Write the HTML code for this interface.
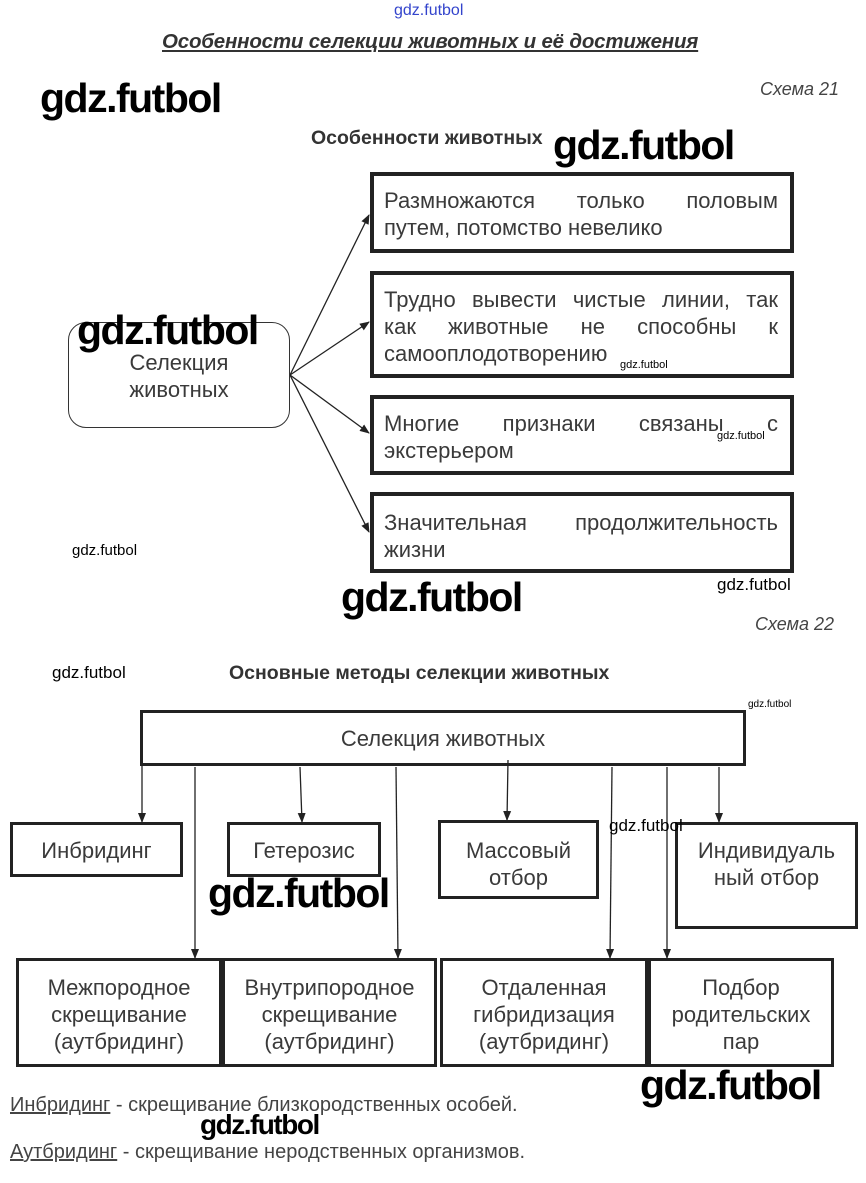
<!DOCTYPE html>
<html><head><meta charset="utf-8">
<style>
html,body{margin:0;padding:0;background:#fff;}
body{width:866px;height:1183px;position:relative;overflow:hidden;font-family:"Liberation Sans",sans-serif;color:#333;}
.a{position:absolute;}
.box{position:absolute;border:3px solid #222;box-sizing:border-box;}
.t{font-size:22px;line-height:27px;color:#3a3a3a;}
.l{display:block;text-align:justify;text-align-last:justify;white-space:nowrap;}
.ll{display:block;white-space:nowrap;}
.c{text-align:center;}
.wm{position:absolute;font-family:"Liberation Sans",sans-serif;font-weight:bold;color:#000;letter-spacing:-1.5px;line-height:1;}
svg{position:absolute;left:0;top:0;}
</style></head><body>
<svg width="866" height="1183">
<defs><marker id="ar" markerWidth="10" markerHeight="10" refX="9" refY="5" orient="auto" markerUnits="userSpaceOnUse"><path d="M0,1 L10,5 L0,9 z" fill="#222"/></marker></defs>
<g stroke="#222" stroke-width="1.3" fill="none" marker-end="url(#ar)">
<line x1="290" y1="375" x2="369" y2="215"/>
<line x1="290" y1="375" x2="369" y2="322"/>
<line x1="290" y1="375" x2="369" y2="433"/>
<line x1="290" y1="375" x2="369" y2="532"/>
<line x1="142" y1="765" x2="142" y2="822"/>
<line x1="195" y1="767" x2="195" y2="958"/>
<line x1="300" y1="767" x2="302" y2="822"/>
<line x1="396" y1="767" x2="398" y2="958"/>
<line x1="508" y1="760" x2="507" y2="820"/>
<line x1="612" y1="767" x2="610" y2="958"/>
<line x1="667" y1="767" x2="667" y2="958"/>
<line x1="719" y1="767" x2="719" y2="822"/>
</g>
</svg>

<div class="a" style="left:394px;top:2px;font-size:16px;color:#3344cc;">gdz.futbol</div>
<div class="a" style="left:162px;top:30px;font-size:20.5px;font-weight:bold;font-style:italic;text-decoration:underline;color:#333;letter-spacing:-0.2px;">Особенности селекции животных и её достижения</div>
<div class="a" style="left:760px;top:79px;font-size:18px;font-style:italic;color:#444;">Схема 21</div>
<div class="a" style="left:311px;top:127px;font-size:19.5px;font-weight:bold;color:#333;">Особенности животных</div>

<div class="box" style="left:68px;top:322px;width:222px;height:106px;border:1.3px solid #333;border-radius:18px;"></div>
<div class="a t c" style="left:68px;top:349px;width:222px;">Селекция<br>животных</div>

<div class="box" style="left:370px;top:172px;width:424px;height:81px;border-width:4px;"></div>
<div class="a t" style="left:384px;top:187px;width:394px;"><span class="l">Размножаются только половым</span><span class="ll">путем, потомство невелико</span></div>
<div class="box" style="left:370px;top:271px;width:424px;height:107px;border-width:4px;"></div>
<div class="a t" style="left:384px;top:286px;width:394px;"><span class="l">Трудно вывести чистые линии, так</span><span class="l">как животные не способны к</span><span class="ll">самооплодотворению</span></div>
<div class="box" style="left:370px;top:395px;width:424px;height:80px;border-width:4px;"></div>
<div class="a t" style="left:384px;top:410px;width:394px;"><span class="l">Многие признаки связаны с</span><span class="ll">экстерьером</span></div>
<div class="box" style="left:370px;top:492px;width:424px;height:81px;border-width:4px;"></div>
<div class="a t" style="left:384px;top:509px;width:394px;"><span class="l">Значительная продолжительность</span><span class="ll">жизни</span></div>

<div class="a" style="left:755px;top:614px;font-size:18px;font-style:italic;color:#444;">Схема 22</div>
<div class="a" style="left:229px;top:662px;font-size:19.5px;font-weight:bold;color:#333;">Основные методы селекции животных</div>

<div class="box" style="left:140px;top:710px;width:606px;height:56px;"></div>
<div class="a t c" style="left:140px;top:725px;width:606px;">Селекция животных</div>

<div class="box" style="left:10px;top:822px;width:173px;height:55px;"></div>
<div class="a t c" style="left:10px;top:837px;width:173px;">Инбридинг</div>
<div class="box" style="left:227px;top:822px;width:154px;height:55px;"></div>
<div class="a t c" style="left:227px;top:837px;width:154px;">Гетерозис</div>
<div class="box" style="left:438px;top:820px;width:161px;height:79px;"></div>
<div class="a t c" style="left:438px;top:837px;width:161px;">Массовый<br>отбор</div>
<div class="box" style="left:675px;top:822px;width:183px;height:107px;"></div>
<div class="a t c" style="left:675px;top:837px;width:183px;">Индивидуаль<br>ный отбор</div>

<div class="box" style="left:16px;top:958px;width:206px;height:109px;"></div>
<div class="a t c" style="left:16px;top:974px;width:206px;">Межпородное<br>скрещивание<br>(аутбридинг)</div>
<div class="box" style="left:222px;top:958px;width:215px;height:109px;"></div>
<div class="a t c" style="left:222px;top:974px;width:215px;">Внутрипородное<br>скрещивание<br>(аутбридинг)</div>
<div class="box" style="left:440px;top:958px;width:208px;height:109px;"></div>
<div class="a t c" style="left:440px;top:974px;width:208px;">Отдаленная<br>гибридизация<br>(аутбридинг)</div>
<div class="box" style="left:648px;top:958px;width:186px;height:109px;"></div>
<div class="a t c" style="left:648px;top:974px;width:186px;">Подбор<br>родительских<br>пар</div>

<div class="a" style="left:10px;top:1094px;font-size:20px;color:#444;"><u>Инбридинг</u> - скрещивание близкородственных особей.</div>
<div class="a" style="left:10px;top:1141px;font-size:20px;color:#444;"><u>Аутбридинг</u> - скрещивание неродственных организмов.</div>

<div class="wm" style="left:40px;top:78px;font-size:41px;">gdz.futbol</div>
<div class="wm" style="left:553px;top:125px;font-size:41px;">gdz.futbol</div>
<div class="wm" style="left:77px;top:310px;font-size:41px;">gdz.futbol</div>
<div class="wm" style="left:620px;top:360px;font-size:11px;font-weight:normal;letter-spacing:0;">gdz.futbol</div>
<div class="wm" style="left:717px;top:431px;font-size:11px;font-weight:normal;letter-spacing:0;">gdz.futbol</div>
<div class="wm" style="left:72px;top:543px;font-size:15px;font-weight:normal;letter-spacing:0;">gdz.futbol</div>
<div class="wm" style="left:717px;top:576px;font-size:17px;font-weight:normal;letter-spacing:0;">gdz.futbol</div>
<div class="wm" style="left:341px;top:577px;font-size:41px;">gdz.futbol</div>
<div class="wm" style="left:52px;top:664px;font-size:17px;font-weight:normal;letter-spacing:0;">gdz.futbol</div>
<div class="wm" style="left:748px;top:700px;font-size:10px;font-weight:normal;letter-spacing:0;">gdz.futbol</div>
<div class="wm" style="left:609px;top:817px;font-size:17px;font-weight:normal;letter-spacing:0;">gdz.futbol</div>
<div class="wm" style="left:208px;top:873px;font-size:41px;">gdz.futbol</div>
<div class="wm" style="left:640px;top:1065px;font-size:41px;">gdz.futbol</div>
<div class="wm" style="left:200px;top:1111px;font-size:28px;">gdz.futbol</div>
</body></html>
